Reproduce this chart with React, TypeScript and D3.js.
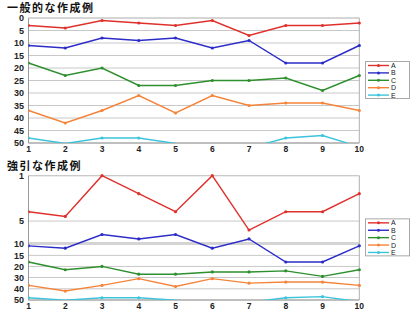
import * as d3 from 'd3';

const categories = [1, 2, 3, 4, 5, 6, 7, 8, 9, 10];
const seriesNames = ['A', 'B', 'C', 'D', 'E'];
const valuesA = [3, 4, 1, 2, 3, 1, 7, 3, 3, 2];
const valuesB = [11, 12, 8, 9, 8, 12, 9, 18, 18, 11];
const valuesC = [18, 23, 20, 27, 27, 25, 25, 24, 29, 23];
const valuesD = [37, 42, 37, 31, 38, 31, 35, 34, 34, 37];
const valuesE = [48, 50.2, 48, 48, 50.2, 53, 52, 48, 47, 51.5];
const seriesColors = ['#e0302c', '#2c2cc8', '#2e8f2e', '#f5843a', '#3cc4dc'];

const topTicks = [0, 5, 10, 15, 20, 25, 30, 35, 40, 45, 50];
// the "forced" chart stretches the top ranks: piecewise domain
const bottomBreaks = [1, 3, 5, 10, 15, 20, 30, 40, 50];
const bottomBreakPos = [0, 0.29, 0.365, 0.545, 0.641, 0.73, 0.819, 0.91, 1];
const bottomTicks = [1, 5, 10, 15, 20, 30, 40, 50];

const allSeries = [valuesA, valuesB, valuesC, valuesD, valuesE];

const W = 420;
const H = 314;
const left = 28.5;
const right = 359.3;

const FONT = '"Liberation Sans", Arial, sans-serif';

function Panel({ id, title, top, bottom, y, ticks, thickTick }: any) {
  const x = d3.scaleLinear().domain([1, 10]).range([left, right]);
  const line = d3.line<number>()
    .x((_, i) => x(categories[i]))
    .y((d) => y(d));
  const legendTop = (top + bottom) / 2 - 19;

  return (
    <g>
      <text x={7} y={top - 6} fontFamily='"Noto Sans CJK JP", sans-serif' fontWeight="bold"
        fontSize={11} letterSpacing={1.5} fill="#111">
        {title}
      </text>
      <clipPath id={id}>
        <rect x={left} y={top - 2} width={right - left + 2} height={bottom - top + 2} />
      </clipPath>
      {ticks.map((t: number) => (
        <line key={t} x1={left} x2={right} y1={y(t)} y2={y(t)}
          stroke={t === thickTick ? '#d4d4d4' : '#c8c8c8'}
          strokeWidth={t === thickTick ? 3 : 1} />
      ))}
      <line x1={left} x2={right} y1={top} y2={top} stroke="#c8c8c8" />
      <line x1={left} x2={left} y1={top} y2={bottom} stroke="#9a9a9a" />
      <line x1={right} x2={right} y1={top} y2={bottom} stroke="#b0b0b0" />
      <line x1={left} x2={right} y1={bottom} y2={bottom} stroke="#9a9a9a" />
      {ticks.map((t: number) => (
        <text key={t} x={24} y={y(t)} dy="0.35em" textAnchor="end"
          fontFamily={FONT} fontWeight="bold" fontSize={9} fill="#222">{t}</text>
      ))}
      {categories.map((c) => (
        <text key={c} x={x(c)} y={bottom + 9} textAnchor="middle"
          fontFamily={FONT} fontWeight="bold" fontSize={8.5} fill="#222">{c}</text>
      ))}
      <g clipPath={`url(#${id})`}>
        {allSeries.map((vals, si) => (
          <g key={si}>
            <path d={line(vals) || ''} fill="none" stroke={seriesColors[si]} strokeWidth={1.4} />
            {vals.map((v, i) => v <= 50 ? (
              <circle key={i} cx={x(categories[i])} cy={y(v)} r={1.6} fill={seriesColors[si]} />
            ) : null)}
          </g>
        ))}
      </g>
      <rect x={365.5} y={legendTop} width={44} height={37} fill="#fff" stroke="#a8a8a8" />
      {seriesNames.map((n, i) => (
        <g key={n}>
          <line x1={368} x2={389} y1={legendTop + 4 + i * 7.4} y2={legendTop + 4 + i * 7.4}
            stroke={seriesColors[i]} strokeWidth={1.4} />
          <circle cx={378.5} cy={legendTop + 4 + i * 7.4} r={1.5} fill={seriesColors[i]} />
          <text x={391} y={legendTop + 4 + i * 7.4} dy="0.35em"
            fontFamily={FONT} fontSize={7} fill="#222">{n}</text>
        </g>
      ))}
    </g>
  );
}

export default function App() {
  const topY = d3.scaleLinear().domain([0, 50]).range([18, 143]);
  const bTop = 175.7;
  const bBottom = 300;
  const bottomY = d3.scaleLinear()
    .domain(bottomBreaks)
    .range(bottomBreakPos.map((f) => bTop + f * (bBottom - bTop)));

  return (
    <svg width={W} height={H} style={{ position: 'absolute', left: 0, top: 0, background: '#fff' }}>
      <rect width={W} height={H} fill="#fff" />
      <Panel id="clipTop" title="一般的な作成例" top={18} bottom={143} y={topY} ticks={topTicks} />
      <Panel id="clipBottom" title="強引な作成例" top={bTop} bottom={bBottom} y={bottomY}
        ticks={bottomTicks} thickTick={10} />
    </svg>
  );
}
